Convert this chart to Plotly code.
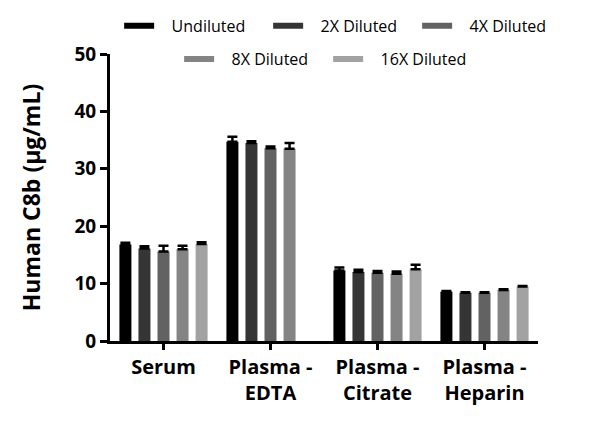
import plotly.graph_objects as go

categories = ["Serum", "Plasma -<br>EDTA", "Plasma -<br>Citrate", "Plasma -<br>Heparin"]
series_names = ["Undiluted", "2X Diluted", "4X Diluted", "8X Diluted", "16X Diluted"]
undiluted = [16.8, 34.7, 12.3, 8.6]
dil_2x = [16.1, 34.5, 12.0, 8.4]
dil_4x = [15.6, 33.6, 11.9, 8.4]
dil_8x = [16.0, 33.5, 11.7, 8.9]
dil_16x = [16.9, None, 12.5, 9.5]
err_undiluted = [0.3, 0.9, 0.5, 0.1]
err_2x = [0.4, 0.3, 0.4, 0.1]
err_4x = [1.0, 0.3, 0.3, 0.1]
err_8x = [0.6, 1.0, 0.4, 0.1]
err_16x = [0.3, 0.0, 0.8, 0.1]
y_ticks = [0, 10, 20, 30, 40, 50]

values = [undiluted, dil_2x, dil_4x, dil_8x, dil_16x]
errors = [err_undiluted, err_2x, err_4x, err_8x, err_16x]
colors = ["#000000", "#353535", "#626262", "#848484", "#a2a2a2"]

FONT = "Open Sans"
NBSP = "\u00a0"
fig = go.Figure()
for name, v, e, c in zip(series_names, values, errors, colors):
    fig.add_trace(go.Bar(
        x=categories, y=v, name=name, marker=dict(color=c, line=dict(width=0)),
        error_y=dict(type="data", array=e, arrayminus=[0]*len(e), symmetric=False,
                     color="#000000", thickness=2.5, width=5),
        showlegend=False,
    ))

for i, (name, c) in enumerate(zip(series_names, colors)):
    fig.add_trace(go.Scatter(
        x=[None], y=[None], mode="lines", name=NBSP * 3 + name,
        line=dict(color=c, width=6),
        legend="legend" if i < 3 else "legend2",
    ))

leg_common = dict(orientation="h", xref="paper", xanchor="left",
                  yref="paper", yanchor="top",
                  font=dict(size=16, family=FONT, color="#000000"),
                  itemwidth=30, entrywidth=104, bgcolor="rgba(0,0,0,0)",
                  bordercolor="rgba(0,0,0,0)")

fig.update_layout(
    width=600, height=431,
    margin=dict(l=110, r=62, t=54, b=90, autoexpand=False),
    paper_bgcolor="white", plot_bgcolor="white",
    barmode="group", bargap=0.11, bargroupgap=0.37,
    font=dict(family=FONT, color="#000000"),
    legend=dict(**leg_common, x=-0.002, y=1.1923, borderwidth=10),
    legend2=dict(**leg_common, x=-0.002, y=1.2854, borderwidth=70),
    xaxis=dict(
        range=[-0.5, 3.5], showline=True, linecolor="#000000", linewidth=3,
        ticks="outside", ticklen=6, tickwidth=2.5, tickcolor="#000000",
        tickfont=dict(size=20, family=FONT, color="#000000", weight="bold"),
        showgrid=False, zeroline=False,
    ),
    yaxis=dict(
        range=[0, 50], tickvals=y_ticks, showline=True, linecolor="#000000", linewidth=3,
        ticks="outside", ticklen=7, tickwidth=2.5, tickcolor="#000000",
        tickfont=dict(size=19, family=FONT, color="#000000", weight="bold"),
        showgrid=False, zeroline=False,
        title=dict(text="Human C8b (µg/mL)", standoff=28,
                   font=dict(size=23, family=FONT, color="#000000", weight="bold")),
    ),
)
fig.write_html("out.html")
